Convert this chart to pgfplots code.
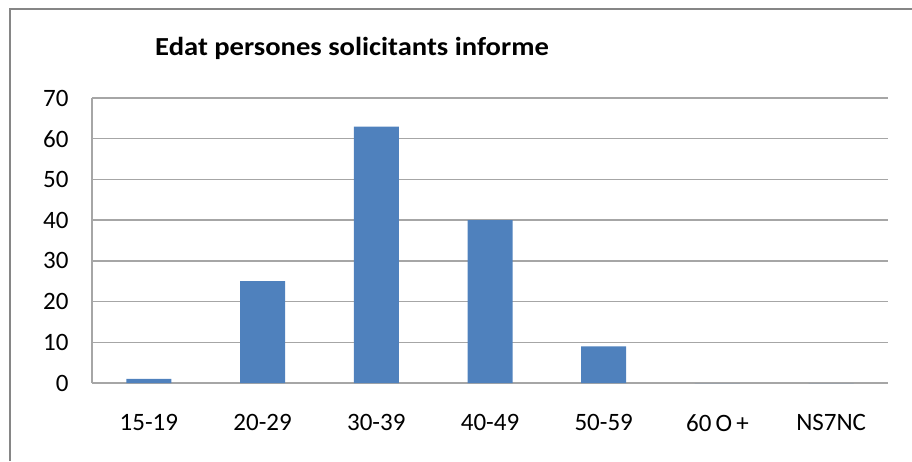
\documentclass[border=0pt]{standalone}
\usepackage{fontspec}
\setmainfont{Carlito}
\usepackage{pgfplots}
\pgfplotsset{compat=1.18}
\definecolor{barblue}{HTML}{4F81BD}
\definecolor{gridgray}{HTML}{A6A6A6}
\definecolor{framegray}{HTML}{868686}
\begin{document}
\begin{tikzpicture}[x=1pt,y=1pt]
\useasboundingbox (0,0) rectangle (912,461);
\draw[framegray, line width=2pt] (10,0) -- (10,452) -- (912,452);
\node[font=\fontsize{26}{30}\selectfont\bfseries, anchor=center] at (352,413) {\scalebox{1.1}[1]{Edat persones solicitants informe}};
\begin{axis}[
  at={(92pt,78pt)}, anchor=south west,
  scale only axis, width=796pt, height=285pt,
  ymin=0, ymax=70, ytick={0,10,...,70},
  xmin=-0.5, xmax=6.5,
  xtick=data,
  xticklabels={15-19,20-29,30-39,40-49,50-59,60\,O\,+,NS7NC},
  axis x line*=bottom, axis y line*=left,
  axis line style={gridgray, line width=1.5pt, -},
  ymajorgrids, grid style={gridgray, line width=1.5pt},
  major tick length=0pt,
  ticklabel style={font=\fontsize{25}{29}\selectfont},
  /pgf/number format/assume math mode=true,
  xticklabel style={yshift=-28pt},
  yticklabel style={xshift=-20pt},
  ybar, bar width=45pt,
]
\addplot[fill=barblue, draw=none] coordinates {(0,1) (1,25) (2,63) (3,40) (4,9) (5,0) (6,0)};
\end{axis}
\end{tikzpicture}
\end{document}
